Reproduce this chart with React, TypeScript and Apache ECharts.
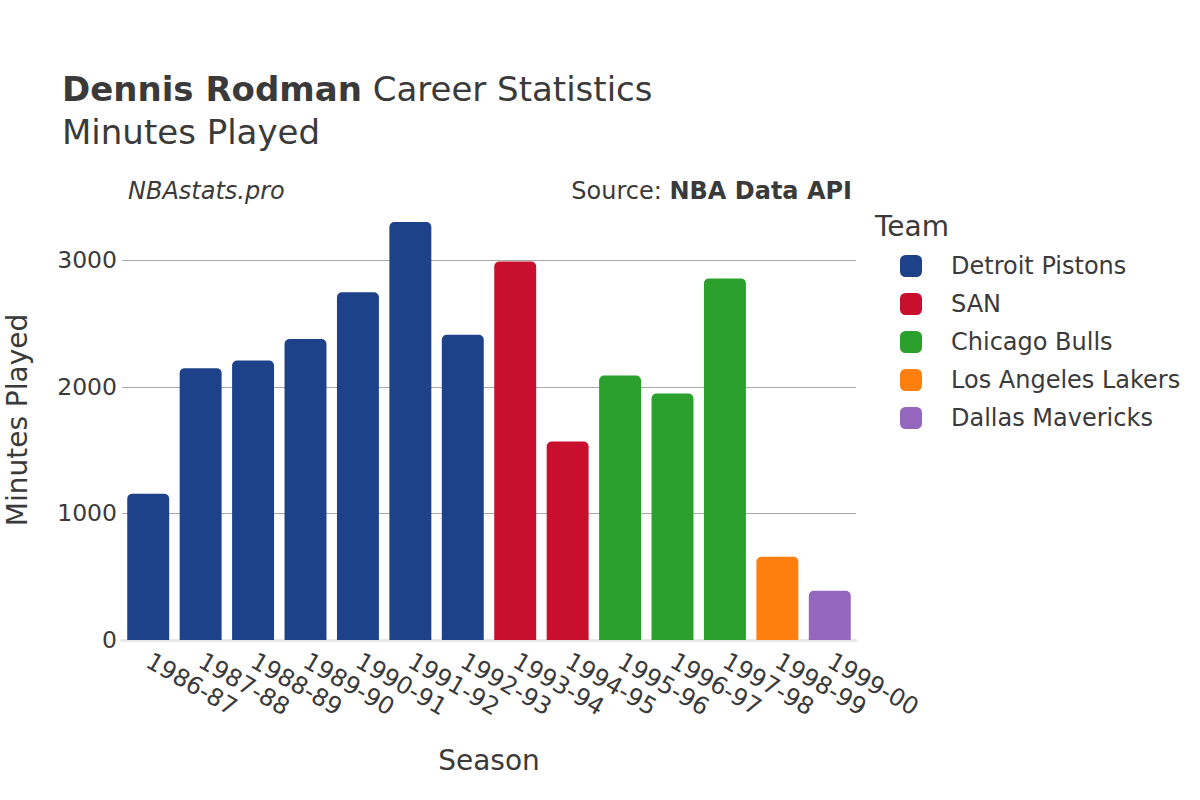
import React, { useEffect, useRef } from "react";
import * as echarts from "echarts";

const seasons = ["1986-87","1987-88","1988-89","1989-90","1990-91","1991-92","1992-93","1993-94","1994-95","1995-96","1996-97","1997-98","1998-99","1999-00"];
const teams = ["Detroit Pistons","SAN","Chicago Bulls","Los Angeles Lakers","Dallas Mavericks"];
const teamColors = ["#1d4289","#c8102e","#2ca02c","#ff7f0e","#9467bd"];
const seasonTeam = [0,0,0,0,0,0,0,1,1,2,2,2,3,4];
const minutesPlayed = [1155,2147,2208,2377,2747,3301,2410,2989,1568,2088,1947,2856,657,389];
const yTicks = [0,1000,2000,3000];

const FONT = "DejaVu Sans, sans-serif";
const TXT = "#3a3a3a";

export default function App() {
  const ref = useRef<HTMLDivElement>(null);
  useEffect(() => {
    const chart = echarts.init(ref.current!, null, { renderer: "svg" });
    const series = teams.map((t, ti) => ({
      name: t,
      type: "bar",
      stack: "all",
      barCategoryGap: "20%",
      itemStyle: { color: teamColors[ti], borderRadius: [5, 5, 0, 0] },
      data: minutesPlayed.map((v, i) => (seasonTeam[i] === ti ? v : null)),
    }));
    chart.setOption({
      animation: false,
      backgroundColor: "#ffffff",
      textStyle: { fontFamily: FONT },
      grid: { left: 122, right: 344, top: 200, bottom: 160, containLabel: false, outerBoundsMode: "none" },
      legend: {
        orient: "vertical",
        left: 895,
        top: 249,
        itemWidth: 22,
        itemHeight: 22,
        itemGap: 14,
        icon: "roundRect",
        textStyle: { fontSize: 24, color: TXT, fontFamily: FONT, padding: [0, 0, 0, 24] },
        data: teams,
      },
      xAxis: {
        type: "category",
        data: seasons,
        name: "Season",
        nameLocation: "middle",
        nameGap: 106,
        nameTextStyle: { fontSize: 28, color: TXT, fontFamily: FONT },
        axisLine: { show: true, lineStyle: { color: "#e8e8e8", width: 3 } },
        axisTick: { show: false },
        axisLabel: { rotate: -30, fontSize: 24, color: TXT, fontFamily: FONT, margin: 19, interval: 0, align: "left" },
      },
      yAxis: {
        type: "value",
        min: 0,
        max: 3475,
        interval: 1000,
        name: "Minutes Played",
        nameLocation: "middle",
        nameGap: 91,
        nameTextStyle: { fontSize: 28, color: TXT, fontFamily: FONT },
        axisLine: { show: false },
        axisTick: { show: false },
        axisLabel: {
          fontSize: 23.5, color: TXT, fontFamily: FONT, margin: 5,
          formatter: (v: number) => (yTicks.includes(v) ? String(v) : ""),
        },
        splitLine: { showMaxLine: false, lineStyle: { color: "#a8a8a8", width: 1 } },
      },
      graphic: [
        {
          type: "text", left: 62, top: 72,
          style: {
            text: "{b|Dennis Rodman} Career Statistics",
            rich: {
              b: { fontSize: 34, fontWeight: "bold", fill: TXT, fontFamily: FONT },
            },
            fontSize: 34, fill: TXT, fontFamily: FONT,
          },
        },
        { type: "text", left: 62, top: 115, style: { text: "Minutes Played", fontSize: 34, fill: TXT, fontFamily: FONT } },
        { type: "text", left: 128, top: 179, style: { text: "NBAstats.pro", fontSize: 24, fontStyle: "italic", fill: TXT, fontFamily: FONT } },
        {
          type: "text", right: 348, top: 179,
          style: {
            text: "Source: {b|NBA Data API}",
            rich: { b: { fontSize: 24, fontWeight: "bold", fill: TXT, fontFamily: FONT } },
            fontSize: 24, fill: TXT, fontFamily: FONT,
          },
        },
        { type: "text", left: 875, top: 212, style: { text: "Team", fontSize: 28, fill: TXT, fontFamily: FONT } },
      ],
      series,
    });
    return () => chart.dispose();
  }, []);
  return <div ref={ref} style={{ width: 1200, height: 800, position: "absolute", left: 0, top: 0 }} />;
}
